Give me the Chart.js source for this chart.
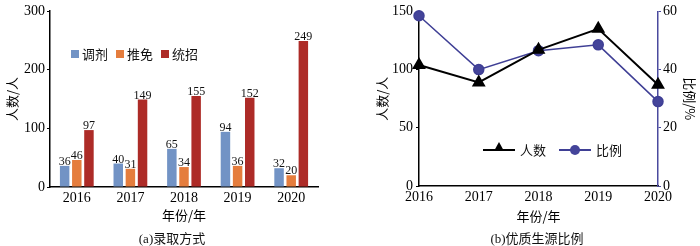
<!DOCTYPE html>
<html>
<head>
<meta charset="utf-8">
<script src="https://cdn.jsdelivr.net/npm/chart.js@4.4.1/dist/chart.umd.min.js"></script>
<style>
  body { margin: 0; background: #fff; }
  #wrap { position: relative; width: 700px; height: 246px; overflow: hidden; font-family: "Liberation Serif", "Noto Sans CJK SC", serif; }
  .box { position: absolute; top: 0; width: 350px; height: 246px; }
  .sub { position: absolute; top: 228px; font-size: 13px; color: #111; white-space: nowrap; transform: translateX(-50%); }
  .legend { position: absolute; display: flex; align-items: center; font-size: 13px; color: #111; white-space: nowrap; }
  .sq { display: inline-block; width: 8px; height: 8px; margin-right: 3px; }
  .item { display: flex; align-items: center; margin-right: 8px; }
  .ln { position: relative; display: inline-block; width: 32px; height: 2px; margin-right: 5px; }
  .tri { position: absolute; left: 11px; top: -7px; width: 0; height: 0; border-left: 5px solid transparent; border-right: 5px solid transparent; border-bottom: 9px solid #000; }
  .dot { position: absolute; left: 11px; top: -4px; width: 10px; height: 10px; border-radius: 50%; }
</style>
</head>
<body>
<div id="wrap">
  <div class="box" style="left:0"><canvas id="barChart" width="350" height="246"></canvas></div>
  <div class="box" style="left:350px"><canvas id="lineChart" width="350" height="246"></canvas></div>

  <div class="legend" style="left:71px; top:44px">
    <span class="item"><span class="sq" style="background:#7293c5"></span>调剂</span>
    <span class="item"><span class="sq" style="background:#e57d3d"></span>推免</span>
    <span class="item"><span class="sq" style="background:#ad2b27"></span>统招</span>
  </div>

  <div class="legend" style="left:483px; top:140px">
    <span class="item" style="margin-right:13px"><span class="ln" style="background:#000"><span class="tri"></span></span>人数</span>
    <span class="item"><span class="ln" style="background:#3f3f95"><span class="dot" style="background:#44449a"></span></span>比例</span>
  </div>

  <div class="sub" style="left:172px">(a)录取方式</div>
  <div class="sub" style="left:537px">(b)优质生源比例</div>
</div>

<script>
const years = ['2016', '2017', '2018', '2019', '2020'];

// (a) admission types
const tiaoji = [36, 40, 65, 94, 32];
const tuimian = [46, 31, 34, 36, 20];
const tongzhao = [97, 149, 155, 152, 249];

// (b) high quality students
const renshu = [104, 89, 117, 135, 87];
const bili = [58.5, 40, 46.5, 48.5, 29];

const serif = '"Liberation Serif", serif';
const cjk = '"Noto Sans CJK SC", sans-serif';

Chart.defaults.animation = false;
Chart.defaults.color = '#000';

const barLabels = {
  id: 'barLabels',
  afterDatasetsDraw(chart) {
    const ctx = chart.ctx;
    ctx.save();
    ctx.font = '12px ' + serif;
    ctx.fillStyle = '#111';
    ctx.textAlign = 'center';
    ctx.textBaseline = 'alphabetic';
    chart.data.datasets.forEach((ds, i) => {
      chart.getDatasetMeta(i).data.forEach((bar, j) => {
        ctx.fillText(ds.data[j], bar.x, bar.y - 1);
      });
    });
    ctx.restore();
  }
};

new Chart(document.getElementById('barChart').getContext('2d'), {
  type: 'bar',
  data: {
    labels: years,
    datasets: [
      { label: '调剂', data: tiaoji, backgroundColor: '#7293c5' },
      { label: '推免', data: tuimian, backgroundColor: '#e57d3d' },
      { label: '统招', data: tongzhao, backgroundColor: '#ad2b27' }
    ]
  },
  options: {
    responsive: false,
    categoryPercentage: 0.68,
    barPercentage: 0.78,
    layout: { padding: { top: 11, left: 0, right: 32, bottom: 0 } },
    plugins: { legend: { display: false }, tooltip: { enabled: false } },
    scales: {
      x: {
        grid: { display: false, drawTicks: false },
        border: { display: true, color: '#000', width: 1.5 },
        ticks: { padding: 3, font: { family: serif, size: 14 } },
        title: { display: true, text: '年份/年', font: { family: cjk, size: 13 }, padding: { top: 0, bottom: 23 } },
        afterFit(scale) { scale.height = 59; }
      },
      y: {
        min: 0,
        max: 300,
        ticks: { stepSize: 100, padding: 2, font: { family: serif, size: 14 } },
        grid: { display: true, drawOnChartArea: false, drawTicks: true, tickLength: 3, color: '#000' },
        border: { display: true, color: '#000', width: 1.5 },
        title: { display: true, text: '人数/人', font: { family: cjk, size: 13 }, padding: { top: 4, bottom: 0 } },
        afterFit(scale) { scale.width = 50; }
      }
    }
  },
  plugins: [barLabels]
});

new Chart(document.getElementById('lineChart').getContext('2d'), {
  type: 'line',
  data: {
    labels: years,
    datasets: [
      {
        label: '人数', data: renshu, yAxisID: 'y',
        borderColor: '#000', backgroundColor: '#000', borderWidth: 2,
        pointStyle: 'triangle', pointRadius: 6, clip: false
      },
      {
        label: '比例', data: bili, yAxisID: 'y1',
        borderColor: '#3f3f95', backgroundColor: '#44449a', borderWidth: 1.5,
        pointStyle: 'circle', pointRadius: 5, clip: false
      }
    ]
  },
  options: {
    responsive: false,
    layout: { padding: { top: 11, left: 24, right: 0, bottom: 0 } },
    plugins: { legend: { display: false }, tooltip: { enabled: false } },
    scales: {
      x: {
        offset: false,
        grid: { display: false, drawTicks: false },
        border: { display: true, color: '#000', width: 1.5 },
        ticks: { padding: 3, font: { family: serif, size: 14 } },
        title: { display: true, text: '年份/年', font: { family: cjk, size: 13 }, padding: { top: 0, bottom: 22 } },
        afterFit(scale) { scale.height = 60; }
      },
      y: {
        position: 'left',
        min: 0,
        max: 150,
        ticks: { stepSize: 50, padding: 3, font: { family: serif, size: 14 } },
        grid: { display: true, drawOnChartArea: false, drawTicks: true, tickLength: 3, color: '#000' },
        border: { display: true, color: '#000', width: 1.5 },
        title: { display: true, text: '人数/人', font: { family: cjk, size: 13 }, padding: { top: 0, bottom: 0 } },
        afterFit(scale) { scale.width = 45; }
      },
      y1: {
        position: 'right',
        min: 0,
        max: 60,
        ticks: { stepSize: 20, padding: 2, font: { family: serif, size: 14 } },
        grid: { display: true, drawOnChartArea: false, drawTicks: true, tickLength: 3, color: '#4a4a9e' },
        border: { display: true, color: '#4a4a9e', width: 1.5 },
        title: { display: true, text: '比例/%', font: { family: cjk, size: 13 }, padding: { top: 2, bottom: 0 } },
        afterFit(scale) { scale.width = 42; }
      }
    }
  }
});
</script>
</body>
</html>
